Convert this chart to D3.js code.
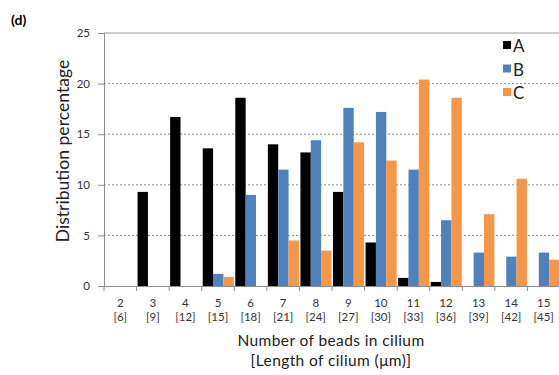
<script src="https://d3js.org/d3.v7.min.js"></script>
<div id="chart"></div>
<script>
// data
var beads   = ["2","3","4","5","6","7","8","9","10","11","12","13","14","15"];
var lengths = ["[6]","[9]","[12]","[15]","[18]","[21]","[24]","[27]","[30]","[33]","[36]","[39]","[42]","[45]"];
var seriesA = [0, 9.3, 16.7, 13.6, 18.6, 14.0, 13.2, 9.3, 4.3, 0.8, 0.4, 0, 0, 0];
var seriesB = [0, 0, 0, 1.2, 9.0, 11.5, 14.4, 17.6, 17.2, 11.5, 6.5, 3.3, 2.9, 3.3];
var seriesC = [0, 0, 0, 0.9, 0, 4.5, 3.5, 14.2, 12.4, 20.4, 18.6, 7.1, 10.6, 2.6];
var seriesNames = ["A", "B", "C"];
var yTicks = [0, 5, 10, 15, 20, 25];

var W = 559, H = 375;
var font = "Lato, 'Open Sans', sans-serif";
var colors = {A: "#000000", B: "#4f81bd", C: "#f79646"};

var svg = d3.select("#chart").append("svg")
    .attr("width", W).attr("height", H)
    .style("position", "absolute").style("left", 0).style("top", 0)
    .style("font-family", font);
d3.select("body").style("margin", 0);

var x = d3.scaleBand().domain(beads).range([104, 560]).padding(0);
var x1 = d3.scaleBand().domain(seriesNames).range([1, x.bandwidth() - 0.5]).padding(0);
var y = d3.scaleLinear().domain([0, 25]).range([286, 33]);

// gridlines
svg.append("g").selectAll("line")
  .data(yTicks.filter(function(d){ return d > 0; }))
  .enter().append("line")
    .attr("x1", 104).attr("x2", W)
    .attr("y1", function(d){ return y(d); }).attr("y2", function(d){ return y(d); })
    .attr("stroke", function(d){ return d === 25 ? "#9a9a9a" : "#8c8c8c"; })
    .attr("stroke-width", 1)
    .attr("stroke-dasharray", function(d){ return d === 25 ? null : "2,2"; });

// bars
var data = beads.map(function(b, i) {
  return {cat: b, vals: [
    {s: "A", v: seriesA[i]}, {s: "B", v: seriesB[i]}, {s: "C", v: seriesC[i]}]};
});
svg.append("g").selectAll("g")
  .data(data).enter().append("g")
    .attr("transform", function(d){ return "translate(" + x(d.cat) + ",0)"; })
  .selectAll("rect")
  .data(function(d){ return d.vals.filter(function(e){ return e.v > 0; }); })
  .enter().append("rect")
    .attr("x", function(d){ return x1(d.s); })
    .attr("width", x1.bandwidth())
    .attr("y", function(d){ return y(d.v); })
    .attr("height", function(d){ return y(0) - y(d.v); })
    .attr("fill", function(d){ return colors[d.s]; });

// y axis
var yAxis = svg.append("g")
    .attr("transform", "translate(104,0)")
    .call(d3.axisLeft(y).tickValues(yTicks).tickSize(6).tickPadding(8));
yAxis.select(".domain").attr("stroke", "#8c8c8c");
yAxis.selectAll(".tick line").attr("stroke", "#8c8c8c");
yAxis.selectAll("text").attr("fill", "#333").style("font-size", "11.5px").style("font-family", font);

// x axis
var xAxis = svg.append("g")
    .attr("transform", "translate(0,286)")
    .call(d3.axisBottom(x).tickSize(0).tickFormat(""));
xAxis.select(".domain").attr("stroke", "#8c8c8c");
xAxis.selectAll(".tick").remove();
svg.append("g").selectAll("line")
  .data(beads).enter().append("line")
    .attr("x1", function(d){ return x(d); }).attr("x2", function(d){ return x(d); })
    .attr("y1", 286).attr("y2", 291)
    .attr("stroke", "#8c8c8c");

var labels = svg.append("g").style("font-size", "11.5px").attr("fill", "#333")
    .attr("text-anchor", "middle");
labels.selectAll(".n").data(beads).enter().append("text")
    .attr("x", function(d){ return x(d) + x.bandwidth() / 2; })
    .attr("y", 307)
    .text(function(d){ return d; });
labels.selectAll(".l").data(lengths).enter().append("text")
    .attr("x", function(d, i){ return x(beads[i]) + x.bandwidth() / 2; })
    .attr("y", 321)
    .text(function(d){ return d; });

// axis titles
svg.append("text")
    .attr("x", 331).attr("y", 346)
    .attr("text-anchor", "middle")
    .style("font-size", "15.5px").style("letter-spacing", "0.4px").attr("fill", "#222")
    .text("Number of beads in cilium");
svg.append("text")
    .attr("x", 331).attr("y", 366)
    .attr("text-anchor", "middle")
    .style("font-size", "15.5px").style("letter-spacing", "0.4px").attr("fill", "#222")
    .text("[Length of cilium (\u03bcm)]");
svg.append("text")
    .attr("transform", "translate(69,151) rotate(-90)")
    .attr("text-anchor", "middle")
    .style("font-size", "17.6px").attr("fill", "#222")
    .text("Distribution percentage");

// panel label
svg.append("text")
    .attr("x", 11).attr("y", 25)
    .style("font-size", "14px").style("font-weight", "bold")
    .text("(d)");

// legend
var legend = svg.append("g").selectAll("g")
  .data(seriesNames).enter().append("g")
    .attr("transform", function(d, i){ return "translate(503," + (41 + i * 23.5) + ")"; });
legend.append("rect").attr("width", 8).attr("height", 8)
    .attr("fill", function(d){ return colors[d]; });
legend.append("text").attr("x", 10).attr("y", 11)
    .style("font-size", "17px").attr("fill", "#222")
    .text(function(d){ return d; });
</script>
